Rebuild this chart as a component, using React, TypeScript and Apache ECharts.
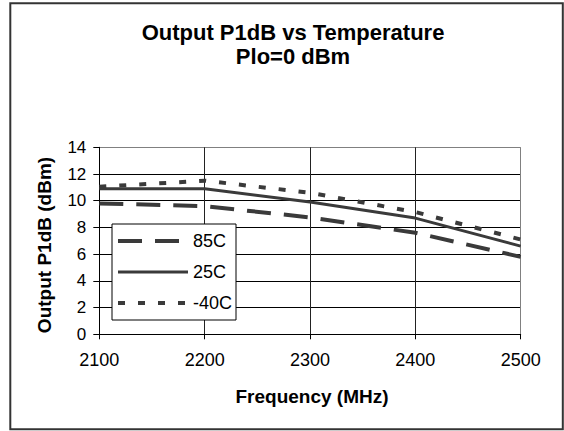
import React, { useEffect, useRef } from "react";
import * as echarts from "echarts";

const frequencies = [2100, 2200, 2300, 2400, 2500];
const p1db85C = [9.8, 9.6, 8.75, 7.6, 5.8];
const p1db25C = [10.9, 10.9, 9.9, 8.7, 6.6];
const p1dbMinus40C = [11.05, 11.5, 10.6, 9.15, 7.1];
const seriesNames = ["85C", "25C", "-40C"];
const titleLines = ["Output P1dB vs Temperature", "Plo=0 dBm"];
const xAxisTitle = "Frequency (MHz)";
const yAxisTitle = "Output P1dB (dBm)";

const FONT = "'Liberation Sans', Arial, sans-serif";
const LINE = "#3a3a3a";

const styles = [
  { width: 4, type: [24, 13] as any, cap: "butt" },
  { width: 3, type: "solid" as any, cap: "butt" },
  { width: 4, type: [7, 13] as any, cap: "butt" },
];

export default function App() {
  const ref = useRef<HTMLDivElement>(null);
  useEffect(() => {
    if (!ref.current) return;
    const chart = echarts.init(ref.current, null, { renderer: "svg" });
    const pts = (vals: number[]) => frequencies.map((f, i) => [f, vals[i]]);
    const values = [p1db85C, p1db25C, p1dbMinus40C];
    chart.setOption({
      animation: false,
      backgroundColor: "#fff",
      title: {
        text: titleLines.join("\n"),
        left: 288,
        top: 15,
        textAlign: "center",
        textStyle: {
          fontFamily: FONT,
          fontSize: 22,
          fontWeight: "bold",
          color: "#000",
          lineHeight: 24.5,
        },
      },
      grid: { left: 99.3, right: 43.3, top: 147.3, bottom: 96.7, containLabel: false },
      xAxis: {
        type: "value",
        min: 2100,
        max: 2500,
        interval: 100,
        axisLine: { show: true, lineStyle: { color: "#000", width: 1 } },
        axisTick: { show: true, length: 5, lineStyle: { color: "#000" } },
        axisLabel: {
          fontFamily: FONT,
          fontSize: 18,
          color: "#000",
          margin: 17,
          formatter: (v: number) => String(v),
        },
        splitLine: {
          show: true,
          lineStyle: { color: ["#000", "#222", "#222", "#222", "#808080"], width: 1 },
        },
      },
      yAxis: {
        type: "value",
        min: 0,
        max: 14,
        interval: 2,
        axisLine: { show: true, lineStyle: { color: "#000", width: 1 } },
        axisTick: { show: true, length: 6, lineStyle: { color: "#000" } },
        axisLabel: { fontFamily: FONT, fontSize: 17, color: "#000", margin: 13 },
        splitLine: {
          show: true,
          lineStyle: {
            color: ["#000", "#000", "#000", "#000", "#000", "#000", "#000", "#808080"],
            width: 1,
          },
        },
      },
      legend: {
        orient: "vertical",
        left: 112,
        top: 224,
        padding: [8, 4, 8, 4],
        itemWidth: 70,
        itemHeight: 14,
        itemGap: 13,
        backgroundColor: "#fff",
        borderColor: "#000",
        borderWidth: 1,
        itemStyle: { opacity: 0 },
        textStyle: { fontFamily: FONT, fontSize: 18, color: "#000" },
        data: seriesNames.map((n, i) => ({
          name: n,
          itemStyle: { opacity: 0 },
          lineStyle: { color: LINE, ...styles[i] },
        })),
      },
      series: seriesNames.map((n, i) => ({
        name: n,
        type: "line",
        data: pts(values[i]),
        symbol: "none",
        color: LINE,
        lineStyle: { color: LINE, ...styles[i] },
        z: 3,
      })),
      graphic: [
        {
          type: "rect",
          shape: { x: 10.3, y: 3.3, width: 552.5, height: 426 },
          style: { fill: "none", stroke: "#333", lineWidth: 2 },
          silent: true,
          z: 100,
        },
        {
          type: "text",
          x: 312,
          y: 396,
          style: {
            text: xAxisTitle,
            fontFamily: FONT,
            fontSize: 19,
            fontWeight: "bold",
            fill: "#000",
            align: "center",
            verticalAlign: "middle",
          },
        },
        {
          type: "text",
          x: 44,
          y: 245,
          rotation: Math.PI / 2,
          style: {
            text: yAxisTitle,
            fontFamily: FONT,
            fontSize: 19,
            fontWeight: "bold",
            fill: "#000",
            align: "center",
            verticalAlign: "middle",
          },
        },
      ],
    });
    return () => chart.dispose();
  }, []);
  return (
    <div
      ref={ref}
      style={{ position: "absolute", left: 0, top: 0, width: 564, height: 431 }}
    />
  );
}
